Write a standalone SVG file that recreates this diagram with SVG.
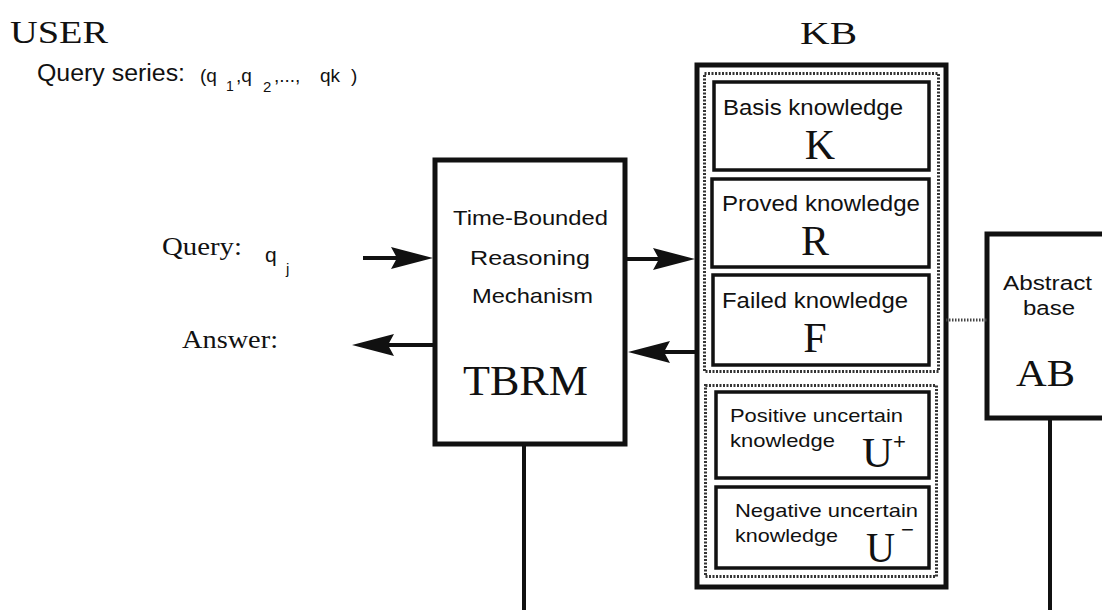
<svg xmlns="http://www.w3.org/2000/svg" width="1102" height="610" viewBox="0 0 1102 610">
<style>
.box{fill:#fff;stroke:#111;stroke-width:5}
.inner{fill:#fff;stroke:#111;stroke-width:3.5}
.grp{fill:none;stroke:#333;stroke-width:3;stroke-dasharray:2 1.5}
.ln{stroke:#111;stroke-width:4;fill:none}
.sans{font-family:"Liberation Sans",Arial,sans-serif;fill:#111}
.serif{font-family:"Liberation Serif","Times New Roman",serif;fill:#111}
</style>
<defs>
<marker id="ah" markerUnits="userSpaceOnUse" markerWidth="44" markerHeight="24" refX="12" refY="12" orient="auto">
<path d="M0,1 L42,12 L0,23 L6,12 z" fill="#111"/>
</marker>
</defs>
<rect width="1102" height="610" fill="#fff"/>

<g id="title-user"><text class="serif" x="10" y="43" font-size="32" textLength="98" lengthAdjust="spacingAndGlyphs">USER</text></g>
<g id="title-kb"><text class="serif" x="800" y="44" font-size="32" textLength="57" lengthAdjust="spacingAndGlyphs">KB</text></g>

<g id="query-series">
<text class="sans" x="37" y="81" font-size="23" textLength="148" lengthAdjust="spacingAndGlyphs">Query series:</text>
<text class="sans" x="200" y="82" font-size="19">(q</text>
<text class="sans" x="226" y="91" font-size="14">1</text>
<text class="sans" x="236" y="82" font-size="19">,q</text>
<text class="sans" x="263" y="92" font-size="15">2</text>
<text class="sans" x="274" y="82" font-size="19">,...,</text>
<text class="sans" x="320" y="82" font-size="19">qk</text>
<text class="sans" x="351" y="82" font-size="19">)</text>
</g>

<g id="query-label">
<text class="serif" x="162" y="255" font-size="26" textLength="80" lengthAdjust="spacingAndGlyphs">Query:</text>
<text class="sans" x="265" y="262" font-size="21">q</text>
<text class="sans" x="286" y="274" font-size="15">j</text>
</g>
<g id="answer-label">
<text class="serif" x="182" y="348" font-size="26" textLength="96" lengthAdjust="spacingAndGlyphs">Answer:</text>
</g>

<g id="tbrm">
<rect class="box" x="435" y="160" width="190" height="284"/>
<text class="sans" x="453" y="225" font-size="21" textLength="155" lengthAdjust="spacingAndGlyphs">Time-Bounded</text>
<text class="sans" x="470" y="265" font-size="21" textLength="120" lengthAdjust="spacingAndGlyphs">Reasoning</text>
<text class="sans" x="472" y="303" font-size="21" textLength="121" lengthAdjust="spacingAndGlyphs">Mechanism</text>
<text class="serif" x="463" y="395" font-size="42" textLength="125" lengthAdjust="spacingAndGlyphs">TBRM</text>
</g>

<g id="kb">
<rect class="box" x="697" y="65" width="249" height="522"/>
<rect class="grp" x="704.5" y="73.5" width="234" height="298"/>
<rect class="grp" x="705.5" y="385.5" width="231" height="191"/>
</g>

<g id="basis">
<rect class="inner" x="714" y="82" width="215" height="88"/>
<text class="sans" x="723" y="115" font-size="22" textLength="180" lengthAdjust="spacingAndGlyphs">Basis knowledge</text>
<text class="serif" x="820" y="159" font-size="42" text-anchor="middle">K</text>
</g>
<g id="proved">
<rect class="inner" x="712" y="179" width="217" height="88"/>
<text class="sans" x="722" y="211" font-size="22" textLength="198" lengthAdjust="spacingAndGlyphs">Proved knowledge</text>
<text class="serif" x="815" y="255" font-size="42" text-anchor="middle">R</text>
</g>
<g id="failed">
<rect class="inner" x="713" y="275" width="216" height="90"/>
<text class="sans" x="722" y="308" font-size="22" textLength="186" lengthAdjust="spacingAndGlyphs">Failed knowledge</text>
<text class="serif" x="815" y="352" font-size="42" text-anchor="middle">F</text>
</g>
<g id="pos-uncertain">
<rect class="inner" x="716" y="392" width="213" height="86"/>
<text class="sans" x="730" y="422" font-size="19" textLength="173" lengthAdjust="spacingAndGlyphs">Positive uncertain</text>
<text class="sans" x="730" y="447" font-size="19" textLength="105" lengthAdjust="spacingAndGlyphs">knowledge</text>
<text class="serif" x="862" y="467" font-size="42" textLength="31" lengthAdjust="spacingAndGlyphs">U</text>
<text class="sans" x="893" y="449" font-size="22">+</text>
</g>
<g id="neg-uncertain">
<rect class="inner" x="716" y="487" width="213" height="81"/>
<text class="sans" x="735" y="517" font-size="19" textLength="183" lengthAdjust="spacingAndGlyphs">Negative uncertain</text>
<text class="sans" x="735" y="542" font-size="19" textLength="103" lengthAdjust="spacingAndGlyphs">knowledge</text>
<text class="serif" x="866" y="562" font-size="42" textLength="29" lengthAdjust="spacingAndGlyphs">U</text>
<text class="sans" x="901" y="537" font-size="22">−</text>
</g>

<g id="abstract-base">
<rect class="box" x="987" y="234" width="130" height="184"/>
<text class="sans" x="1003" y="290" font-size="20" textLength="89" lengthAdjust="spacingAndGlyphs">Abstract</text>
<text class="sans" x="1023" y="315" font-size="20" textLength="52" lengthAdjust="spacingAndGlyphs">base</text>
<text class="serif" x="1016" y="386" font-size="38" textLength="59" lengthAdjust="spacingAndGlyphs">AB</text>
</g>

<g id="connectors">
<line class="ln" x1="363" y1="258" x2="403" y2="258" marker-end="url(#ah)"/>
<line class="ln" x1="433" y1="345" x2="382" y2="345" marker-end="url(#ah)"/>
<line class="ln" x1="625" y1="259" x2="665" y2="259" marker-end="url(#ah)"/>
<line class="ln" x1="697" y1="352" x2="658" y2="352" marker-end="url(#ah)"/>
<line stroke="#444" stroke-width="3" stroke-dasharray="1.5 1.5" x1="946" y1="320" x2="987" y2="320"/>
<line class="ln" stroke-width="3.5" x1="524" y1="444" x2="524" y2="610"/>
<line class="ln" stroke-width="3.5" x1="1050" y1="418" x2="1050" y2="610"/>
</g>
</svg>
